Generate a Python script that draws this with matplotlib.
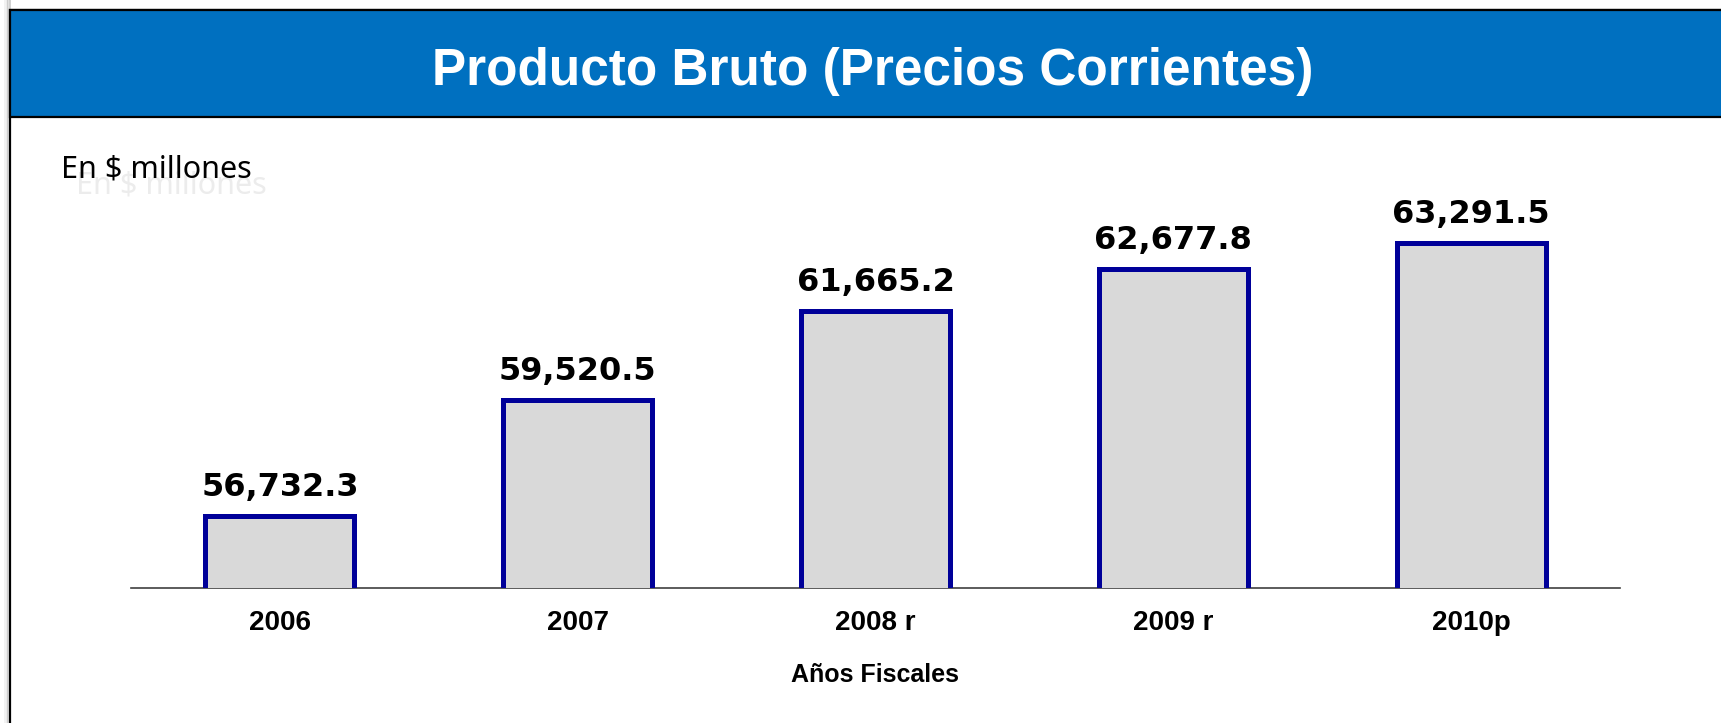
'''
    Producto Bruto (Precios Corrientes) - bar chart with a banner header
'''
import matplotlib
matplotlib.use('Agg')
from matplotlib import pyplot as plt
from matplotlib.patches import Rectangle

# Data
years = ['2006', '2007', '2008 r', '2009 r', '2010p']
values = [56732.3, 59520.5, 61665.2, 62677.8, 63291.5]
labels = ['56,732.3', '59,520.5', '61,665.2', '62,677.8', '63,291.5']

W, H = 1721, 723
BLUE = '#0070C0'
BOLD_FONT = 'Liberation Sans'

def fx(px):
    return px / W

def fy(py):
    # pixel row (from top) -> figure fraction
    return (H - py) / H

fig = plt.figure(figsize=(W / 100, H / 100), dpi=100)
fig.patch.set_facecolor('white')

# soft shadow on the left of the frame
for i, a in enumerate([0.05, 0.08, 0.12, 0.18]):
    fig.patches.append(Rectangle((fx(4 + i * 1.5), -0.1), fx(2), 1.2 - fy(H - 14),
                                 transform=fig.transFigure, facecolor='#000000',
                                 alpha=a, edgecolor='none', zorder=0))

# outer frame (runs off the right and bottom edges)
fig.patches.append(Rectangle((fx(10), -0.1), 1.2, fy(10) + 0.1,
                             transform=fig.transFigure, facecolor='white',
                             edgecolor='black', linewidth=1.6, zorder=1))
# header band
fig.patches.append(Rectangle((fx(10), fy(117)), 1.2, fy(10) - fy(117),
                             transform=fig.transFigure, facecolor=BLUE,
                             edgecolor='black', linewidth=1.6, zorder=2))

fig.text(fx(873), fy(85), 'Producto Bruto (Precios Corrientes)', color='white',
         fontsize=37, fontweight='bold', family=BOLD_FONT,
         ha='center', va='baseline', zorder=3)

# unit note, with its faint ghost copy
fig.text(fx(76), fy(194), 'En $ millones', color='#ececec', fontsize=22,
         family='Noto Sans', ha='left', va='baseline', zorder=3)
fig.text(fx(61), fy(178), 'En $ millones', color='black', fontsize=22,
         family='Noto Sans', ha='left', va='baseline', zorder=4)

# chart area
ax_left, ax_right, ax_base = 131, 1620, 588
ymin, ymax = 55000, 66000
px_per_unit = 0.04156
ax_h = (ymax - ymin) * px_per_unit
ax = fig.add_axes([fx(ax_left), fy(ax_base), fx(ax_right - ax_left), ax_h / H])
ax.set_zorder(5)
ax.patch.set_alpha(0)

x = list(range(len(years)))
ax.bar(x, values, width=0.5, bottom=0, color='#D9D9D9', edgecolor='#000099',
       linewidth=3.6, zorder=3)
ax.set_xlim(-0.5, len(years) - 0.5)
ax.set_ylim(ymin, ymax)

for xi, v, lab in zip(x, values, labels):
    ax.annotate(lab, (xi, v), xytext=(0, 14.5), textcoords='offset points',
                ha='center', va='baseline', fontsize=23, fontweight='bold',
                family='DejaVu Sans', color='black', zorder=6)

for s in ['top', 'left', 'right']:
    ax.spines[s].set_visible(False)
ax.spines['bottom'].set_color('#404040')
ax.spines['bottom'].set_linewidth(1.2)
ax.set_yticks([])
ax.set_xticks(x)
ax.set_xticklabels(years, fontsize=20, fontweight='bold', family=BOLD_FONT)
ax.tick_params(axis='x', length=0, pad=16)

fig.text(fx(875), fy(682), 'Años Fiscales', color='black', fontsize=18,
         fontweight='bold', family=BOLD_FONT, ha='center', va='baseline')

fig.savefig('out.png', dpi=100)
